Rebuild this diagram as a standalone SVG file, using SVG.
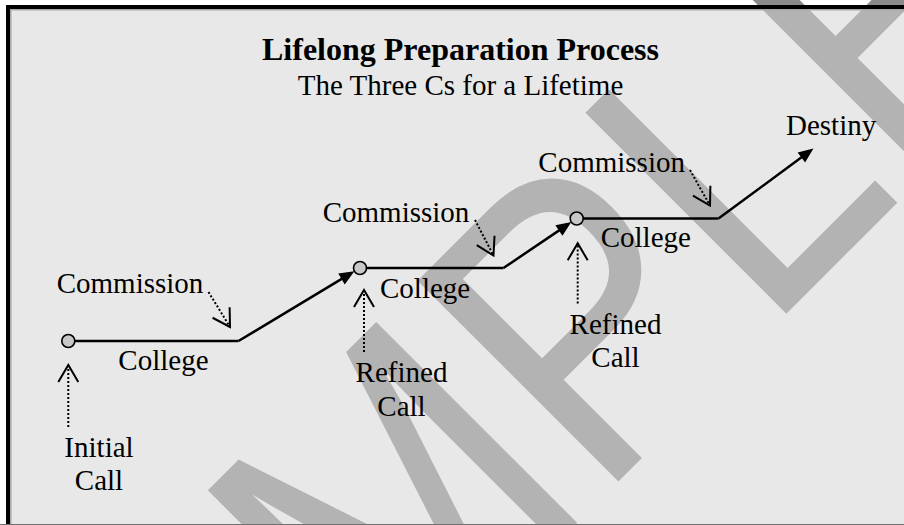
<svg xmlns="http://www.w3.org/2000/svg" xmlns:xlink="http://www.w3.org/1999/xlink" width="904" height="525" viewBox="0 0 904 525">
  <style>
    .lbl { font-family: "Liberation Serif", "Times New Roman", serif; font-size: 29px; fill: #000; }
    .title { font-family: "Liberation Serif", "Times New Roman", serif; font-size: 32px; font-weight: bold; fill: #000; }
    .path { stroke: #000; stroke-width: 2.5; fill: none; }
    .dot { stroke: #000; stroke-width: 2; stroke-dasharray: 2 2; fill: none; }
    .node { fill: #c8c8c8; stroke: #000; stroke-width: 1.6; }
    .wm { font-family: "Liberation Sans", Arial, sans-serif; font-size: 413px; font-kerning: none; }
  </style>
  <defs>
    <marker id="solid" viewBox="-8 -7 17 14" refX="0" refY="0" markerWidth="17" markerHeight="14" markerUnits="userSpaceOnUse" orient="auto">
      <path d="M8,0 L-7,-6.3 L-7,6.3 Z" fill="#000"/>
    </marker>
    <marker id="open" viewBox="-19 -12 21 24" refX="0" refY="0" markerWidth="21" markerHeight="24" markerUnits="userSpaceOnUse" orient="auto">
      <path d="M-17,-10 L0,0 L-17,10" fill="none" stroke="#000" stroke-width="2" stroke-dasharray="none"/>
    </marker>
    <clipPath id="inside"><rect x="0" y="9" width="904" height="520"/></clipPath>
    <clipPath id="outside"><rect x="0" y="0" width="904" height="5"/></clipPath>
    <text id="wmtext" class="wm" transform="translate(0,1100) rotate(-45) scale(0.862,1)" x="85.8" y="0">SAMPLE</text>
  </defs>

  <rect x="0" y="0" width="904" height="525" fill="#fff"/>
  <rect id="frame" x="8" y="7" width="910" height="530" fill="#e8e8e8" stroke="#000" stroke-width="4"/>

  <g id="watermark">
    <use xlink:href="#wmtext" href="#wmtext" fill="#b3b3b3" clip-path="url(#inside)"/>
    <use xlink:href="#wmtext" href="#wmtext" fill="#8a8a8a" clip-path="url(#outside)"/>
  </g>

  <path d="M8,7 H910" stroke="#000" stroke-width="4"/>
  <path d="M10.8,530 V9.8 H904" stroke="#a8a8a8" stroke-width="1.5" fill="none"/>
  <path d="M0,524.5 H904" stroke="#707070" stroke-width="1"/>

  <g id="title">
    <text class="title" x="460.5" y="59.5" text-anchor="middle">Lifelong Preparation Process</text>
    <text class="lbl" x="460.5" y="94.5" text-anchor="middle">The Three Cs for a Lifetime</text>
  </g>

  <g id="connectors">
    <path class="path" d="M75,341 H238.5"/>
    <path class="path" d="M238.5,341 L347.5,275.4" marker-end="url(#solid)"/>
    <path class="path" d="M366.5,268 H503.5"/>
    <path class="path" d="M503.5,268 L564.7,226.6" marker-end="url(#solid)"/>
    <path class="path" d="M583.2,218.5 H718.5"/>
    <path class="path" d="M718.5,218.5 L807,153.3" marker-end="url(#solid)"/>

    <path class="dot" d="M208.5,292 L230,327" marker-end="url(#open)"/>
    <path class="dot" d="M475,220 L493.5,255.5" marker-end="url(#open)"/>
    <path class="dot" d="M690,170 L710,205.5" marker-end="url(#open)"/>

    <path class="dot" d="M68.3,427 V365" marker-end="url(#open)"/>
    <path class="dot" d="M364,352 V290" marker-end="url(#open)"/>
    <path class="dot" d="M577.7,303.5 V243.3" marker-end="url(#open)"/>
  </g>

  <g id="start">
    <circle class="node" cx="68.3" cy="341" r="6.5"/>
    <text class="lbl" x="99" y="457" text-anchor="middle">Initial</text>
    <text class="lbl" x="99" y="490.3" text-anchor="middle">Call</text>
  </g>
  <g id="commission1"><text class="lbl" x="56.7" y="292.5">Commission</text></g>
  <g id="college1"><text class="lbl" x="118.3" y="370">College</text></g>

  <g id="stage2">
    <circle class="node" cx="360" cy="268" r="6.5"/>
    <text class="lbl" x="401.5" y="382.3" text-anchor="middle">Refined</text>
    <text class="lbl" x="401.5" y="415.6" text-anchor="middle">Call</text>
  </g>
  <g id="commission2"><text class="lbl" x="322.7" y="222.3">Commission</text></g>
  <g id="college2"><text class="lbl" x="380" y="298.3">College</text></g>

  <g id="stage3">
    <circle class="node" cx="576.7" cy="218.5" r="6.5"/>
    <text class="lbl" x="615.5" y="334" text-anchor="middle">Refined</text>
    <text class="lbl" x="615.5" y="367.3" text-anchor="middle">Call</text>
  </g>
  <g id="commission3"><text class="lbl" x="538.3" y="172.3">Commission</text></g>
  <g id="college3"><text class="lbl" x="600.7" y="247.3">College</text></g>

  <g id="destiny"><text class="lbl" x="786" y="134.5">Destiny</text></g>
</svg>
